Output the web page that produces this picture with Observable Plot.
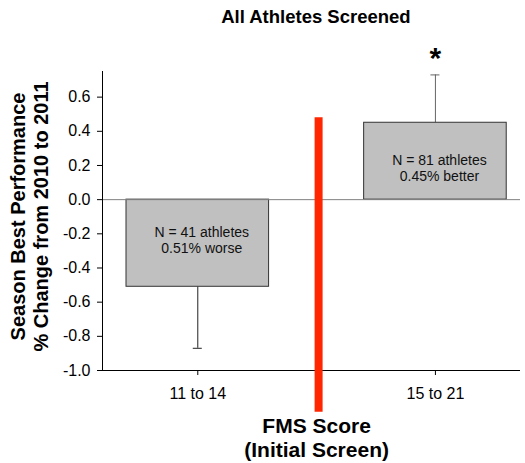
<!DOCTYPE html>
<html>
<head>
<meta charset="utf-8">
<script src="https://cdn.jsdelivr.net/npm/d3@7"></script>
<script src="https://cdn.jsdelivr.net/npm/@observablehq/plot@0.6"></script>
<style>
  html, body { margin: 0; padding: 0; background: #fff; }
</style>
</head>
<body>
<div id="chart"></div>
<script>
// ---- data ----
const title = "All Athletes Screened";
const categories = ["11 to 14", "15 to 21"];
const means = [-0.51, 0.45];
const errors = [0.36, 0.28];
const counts = [41, 81];
const significance = ["", "*"];
const yTicks = [-1.0, -0.8, -0.6, -0.4, -0.2, 0.0, 0.2, 0.4, 0.6];
const yLabel = "Season Best Performance\n% Change from 2010 to 2011";
const xLabel = "FMS Score\n(Initial Screen)";
const cutoff = [{x: 0.5, top: 0.48, bottom: -1.245}];

const xDomain = [-0.401, 1.358];
const yDomain = [-1.0, 0.75];

const rows = categories.map((c, i) => ({
  i, c, m: means[i], e: errors[i], n: counts[i], s: significance[i],
  end: means[i] < 0 ? means[i] - errors[i] : means[i] + errors[i],
  label: `N = ${counts[i]} athletes\n${Math.abs(means[i]).toFixed(2)}% ${means[i] < 0 ? "worse" : "better"}`
}));

const halfBar = 0.3;
const halfCap = 0.019;

const chart = Plot.plot({
  width: 525,
  height: 463,
  marginLeft: 102,
  marginRight: 5,
  marginTop: 71,
  marginBottom: 93,
  style: {fontFamily: "'Liberation Sans', Arial, sans-serif", fontSize: "16px", background: "#fff", color: "#000"},
  x: {type: "linear", domain: xDomain},
  y: {domain: yDomain},
  marks: [
    // error bars (drawn behind bars)
    Plot.ruleX(rows, {x: "i", y1: "m", y2: "end", stroke: d => d.m < 0 ? "#222" : "#666", strokeWidth: 1}),
    Plot.ruleY(rows, {y: "end", x1: d => d.i - halfCap, x2: d => d.i + halfCap, stroke: d => d.m < 0 ? "#222" : "#666", strokeWidth: 1}),
    // bars
    Plot.rectY(rows, {x1: d => d.i - halfBar, x2: d => d.i + halfBar, y1: 0, y2: "m", fill: "#c0c0c0", stroke: "#333", strokeWidth: 1}),
    // zero line
    Plot.ruleY([0], {stroke: "#808080", strokeWidth: 1}),
    // axis lines
    Plot.ruleX([xDomain[0]], {stroke: "#000"}),
    Plot.ruleY([yDomain[0]], {stroke: "#000"}),
    // axes
    Plot.axisY(yTicks, {tickFormat: d => d.toFixed(1), tickSize: 5, tickPadding: 7, fontSize: 16, label: null}),
    Plot.axisX([0, 1], {tickFormat: i => categories[i], tickSize: 5, tickPadding: 12, fontSize: 16, label: null}),
    // cutoff line
    Plot.ruleX(cutoff, {x: "x", y1: "bottom", y2: "top", stroke: "#ff2600", strokeWidth: 8, dx: 2}),
    // bar annotations
    Plot.text(rows.filter(d => d.m < 0), {x: "i", y: d => d.m / 2, text: "label", fontSize: 14, lineHeight: 1.1, lineAnchor: "middle", dx: 4, dy: -3, fill: "#111"}),
    Plot.text(rows.filter(d => d.m >= 0), {x: "i", y: d => d.m / 2, text: "label", fontSize: 14, lineHeight: 1.1, lineAnchor: "middle", dx: 4, dy: 7, fill: "#111"}),
    // significance
    Plot.text(rows, {x: "i", y: "end", text: "s", fontSize: 30, fontWeight: "bold", lineAnchor: "middle", dy: -17}),
    // title
    Plot.text([title], {x: 0.497, frameAnchor: "top", text: d => d, fontSize: 18.5, fontWeight: "bold", lineAnchor: "middle", dy: -54.5}),
    // y label
    Plot.text([yLabel], {frameAnchor: "left", textAnchor: "middle", text: d => d, rotate: -90, fontSize: 20, fontWeight: "bold", lineHeight: 1.12, lineAnchor: "middle", dx: -73, dy: -4.5}),
    // x label
    Plot.text([xLabel], {x: 0.5, frameAnchor: "bottom", text: d => d, fontSize: 21, fontWeight: "bold", lineHeight: 1.17, lineAnchor: "middle", dy: 66.5})
  ]
});
document.getElementById("chart").appendChild(chart);
</script>
</body>
</html>
